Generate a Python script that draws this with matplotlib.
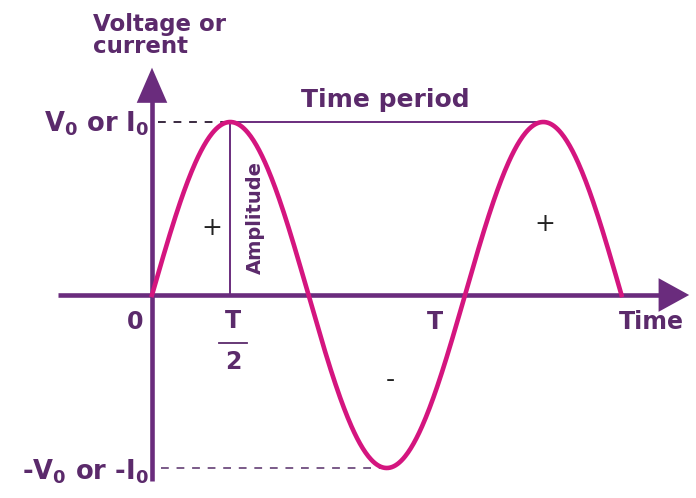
import numpy as np
import matplotlib.pyplot as plt

plt.rcParams['font.family'] = ['DejaVu Sans']
plt.rcParams['mathtext.default'] = 'regular'

# wave description (time in periods, amplitude normalised)
period = 1.0
amplitude = 1.0
n_periods = 1.5

# where the labels sit
quarter_label = 0.26
period_label = 0.905

purple = '#6a2c7d'
text_purple = '#5b2a6b'
magenta = '#d4157f'

t = np.linspace(0, n_periods * period, 500)
v = amplitude * np.sin(2 * np.pi * t / period)

fig = plt.figure(figsize=(6.96, 4.98), dpi=100)
ax = fig.add_axes([0, 0, 1, 1])
ax.set_xlim(-152 / 313, 544 / 313)
ax.set_ylim(-203 / 173, 295 / 173)
ax.set_axis_off()

# axes with arrows
ax.plot([-0.30, 1.66], [0, 0], color=purple, lw=3.3, solid_capstyle='butt', zorder=2)
ax.annotate('', xy=(1.725, 0), xytext=(1.64, 0),
            arrowprops=dict(arrowstyle='-|>,head_length=1.0,head_width=0.55',
                            color=purple, lw=0, mutation_scale=22))
ax.plot([0, 0], [-1.076, 1.2], color=purple, lw=3.3, solid_capstyle='butt', zorder=2)
ax.annotate('', xy=(0, 1.33), xytext=(0, 1.18),
            arrowprops=dict(arrowstyle='-|>,head_length=1.15,head_width=0.5',
                            color=purple, lw=0, mutation_scale=22))

# the wave
ax.plot(t, v, color=magenta, lw=3.3, zorder=3)

# amplitude and time period markers
peak_t = period / 4
ax.plot([peak_t, peak_t], [0, amplitude], color=purple, lw=1.4, zorder=2)
ax.plot([peak_t, peak_t + period], [amplitude, amplitude], color=purple, lw=1.4, zorder=2)
ax.plot([0.02, peak_t - 0.02], [amplitude, amplitude], color='#3a2a40', lw=1.4,
        ls=(0, (4, 4)), zorder=2)
ax.plot([0.03, 0.75 * period - 0.01], [-amplitude, -amplitude], color='#7a5a88', lw=1.4,
        ls=(0, (4, 4)), zorder=2)

bold = dict(color=text_purple, fontweight='bold')
ax.text(-0.19, 1.63, 'Voltage or\ncurrent', ha='left', va='top', fontsize=16.5,
        linespacing=0.95, **bold)
ax.text(-0.01, 0.99, 'V$_0$ or I$_0$', ha='right', va='center', fontsize=18.5, **bold)
ax.text(-0.01, -1.02, '-V$_0$ or -I$_0$', ha='right', va='center', fontsize=18.5, **bold)
ax.text(0.745, 1.13, 'Time period', ha='center', va='center', fontsize=18, **bold)
ax.text(0.33, 0.45, 'Amplitude', ha='center', va='center', rotation=90, fontsize=14, **bold)

ax.text(-0.054, -0.155, '0', ha='center', va='center', fontsize=17, **bold)
ax.text(quarter_label, -0.15, 'T', ha='center', va='center', fontsize=17, **bold)
ax.plot([quarter_label - 0.045, quarter_label + 0.045], [-0.275, -0.275], color=text_purple, lw=1.3)
ax.text(quarter_label, -0.39, '2', ha='center', va='center', fontsize=17, **bold)
ax.text(period_label, -0.155, 'T', ha='center', va='center', fontsize=17, **bold)
ax.text(1.595, -0.155, 'Time', ha='center', va='center', fontsize=17, **bold)

ax.text(0.19, 0.39, '+', ha='center', va='center', fontsize=18, color='#222222')
ax.text(1.254, 0.41, '+', ha='center', va='center', fontsize=18, color='#222222')
ax.text(0.762, -0.49, '-', ha='center', va='center', fontsize=18, color='#222222')

fig.savefig('out.png', dpi=100)
